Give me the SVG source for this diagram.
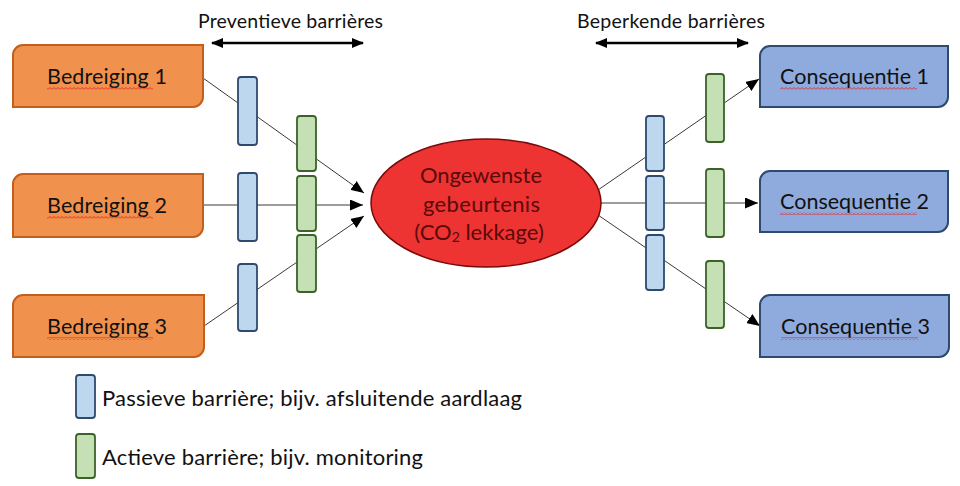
<svg xmlns="http://www.w3.org/2000/svg" width="960" height="486" viewBox="0 0 960 486">
<defs>
<style>
text{font-family:Lato,"Open Sans","Liberation Sans",sans-serif;fill:#111}
.lbl{font-size:21.5px;text-anchor:middle}
.top{font-size:19.5px;text-anchor:middle}
.leg{font-size:22px}
.threat{fill:#F0914D;stroke:#C45E1B;stroke-width:2}
.cons{fill:#8FAADC;stroke:#2E4A6F;stroke-width:2}
.pas{fill:#BDD7EE;stroke:#2E4A6F;stroke-width:1.8}
.act{fill:#C5E0B4;stroke:#3B6328;stroke-width:1.8}
.con{stroke:#3a3a3a;stroke-width:1;fill:none}
.span{stroke:#000;stroke-width:2.5;fill:none}
.ev{fill:#5A0A0A;font-size:22px;text-anchor:middle}
</style>
<marker id="arr" viewBox="0 0 13 11" refX="13" refY="5.5" markerWidth="13" markerHeight="11" markerUnits="userSpaceOnUse" orient="auto">
<path d="M0,0 L13,5.5 L0,11 Z" fill="#000"/>
</marker>
<marker id="arr2" viewBox="0 0 12 10" refX="11" refY="5" markerWidth="12" markerHeight="10" markerUnits="userSpaceOnUse" orient="auto-start-reverse">
<path d="M0,0 L12,5 L0,10 Z" fill="#000"/>
</marker>
<pattern id="squig" width="4" height="3" patternUnits="userSpaceOnUse">
<path d="M0,2.5 L2,0.5 L4,2.5" fill="none" stroke="#E02020" stroke-width="0.9"/>
</pattern>
</defs>

<g id="connectors">
<line class="con" x1="203" y1="78" x2="364" y2="193" marker-end="url(#arr)"/>
<line class="con" x1="203" y1="205" x2="363" y2="205" marker-end="url(#arr)"/>
<line class="con" x1="204" y1="326" x2="364" y2="216" marker-end="url(#arr)"/>
<line class="con" x1="598" y1="190" x2="759" y2="79" marker-end="url(#arr)"/>
<line class="con" x1="598" y1="203" x2="758" y2="203" marker-end="url(#arr)"/>
<line class="con" x1="598" y1="215" x2="760" y2="326" marker-end="url(#arr)"/>
</g>

<g id="span-preventive">
<line class="span" x1="212" y1="43" x2="363" y2="43" marker-start="url(#arr2)" marker-end="url(#arr2)"/>
<text class="top" x="290.5" y="28" textLength="185">Preventieve barrières</text>
</g>
<g id="span-limiting">
<line class="span" x1="596" y1="43" x2="748" y2="43" marker-start="url(#arr2)" marker-end="url(#arr2)"/>
<text class="top" x="671" y="28" textLength="188">Beperkende barrières</text>
</g>

<g id="threat1">
<path class="threat" d="M23,45 H203 V97 A10,10 0 0 1 193,107 H13 V55 A10,10 0 0 1 23,45 Z"/>
<text class="lbl" x="107" y="84" textLength="120">Bedreiging 1</text>
<rect x="47" y="87" width="106" height="3" fill="url(#squig)"/>
</g>
<g id="threat2">
<path class="threat" d="M23,174 H203 V227 A10,10 0 0 1 193,237 H13 V184 A10,10 0 0 1 23,174 Z"/>
<text class="lbl" x="107" y="213" textLength="120">Bedreiging 2</text>
<rect x="47" y="216" width="106" height="3" fill="url(#squig)"/>
</g>
<g id="threat3">
<path class="threat" d="M23,295 H204 V347 A10,10 0 0 1 194,357 H13 V305 A10,10 0 0 1 23,295 Z"/>
<text class="lbl" x="107" y="334" textLength="120">Bedreiging 3</text>
<rect x="47" y="337" width="106" height="3" fill="url(#squig)"/>
</g>

<g id="barriers-left">
<rect class="pas" x="238" y="77" width="19" height="68" rx="3"/>
<rect class="pas" x="238" y="173" width="19" height="68" rx="3"/>
<rect class="pas" x="238" y="264" width="19" height="67" rx="3"/>
<rect class="act" x="297" y="116" width="19" height="55" rx="3"/>
<rect class="act" x="297" y="176" width="19" height="55" rx="3"/>
<rect class="act" x="297" y="235" width="19" height="57" rx="3"/>
</g>

<g id="event">
<ellipse cx="486" cy="203" rx="115" ry="64" fill="#EE3333" stroke="#7A0A0A" stroke-width="1.5"/>
<text class="ev" x="481" y="183" textLength="122">Ongewenste</text>
<text class="ev" x="481.5" y="212" textLength="117">gebeurtenis</text>
<text class="ev" x="479" y="240">(CO<tspan font-size="14" dy="2">2</tspan><tspan dy="-2"> lekkage)</tspan></text>
</g>

<g id="barriers-right">
<rect class="pas" x="646" y="116" width="18" height="55" rx="3"/>
<rect class="pas" x="646" y="176" width="18" height="54" rx="3"/>
<rect class="pas" x="646" y="235" width="18" height="55" rx="3"/>
<rect class="act" x="706" y="74" width="18" height="68" rx="3"/>
<rect class="act" x="706" y="169" width="18" height="68" rx="3"/>
<rect class="act" x="706" y="261" width="18" height="67" rx="3"/>
</g>

<g id="cons1">
<path class="cons" d="M770,46 H948 V97 A10,10 0 0 1 938,107 H760 V56 A10,10 0 0 1 770,46 Z"/>
<text class="lbl" x="854.5" y="84" textLength="149">Consequentie 1</text>
<rect x="780" y="87" width="137" height="3" fill="url(#squig)"/>
</g>
<g id="cons2">
<path class="cons" d="M770,171 H948 V222 A10,10 0 0 1 938,232 H760 V181 A10,10 0 0 1 770,171 Z"/>
<text class="lbl" x="854.5" y="209" textLength="149">Consequentie 2</text>
<rect x="780" y="212" width="137" height="3" fill="url(#squig)"/>
</g>
<g id="cons3">
<path class="cons" d="M770,295 H949 V347 A10,10 0 0 1 939,357 H760 V305 A10,10 0 0 1 770,295 Z"/>
<text class="lbl" x="855.5" y="334" textLength="149">Consequentie 3</text>
<rect x="781" y="337" width="137" height="3" fill="url(#squig)"/>
</g>

<g id="legend">
<rect class="pas" x="76" y="375" width="19" height="43" rx="3"/>
<text class="leg" x="102" y="406" textLength="420">Passieve barrière; bijv. afsluitende aardlaag</text>
<rect class="act" x="76" y="434" width="19" height="44" rx="3"/>
<text class="leg" x="102" y="465" textLength="321">Actieve barrière; bijv. monitoring</text>
</g>
</svg>
